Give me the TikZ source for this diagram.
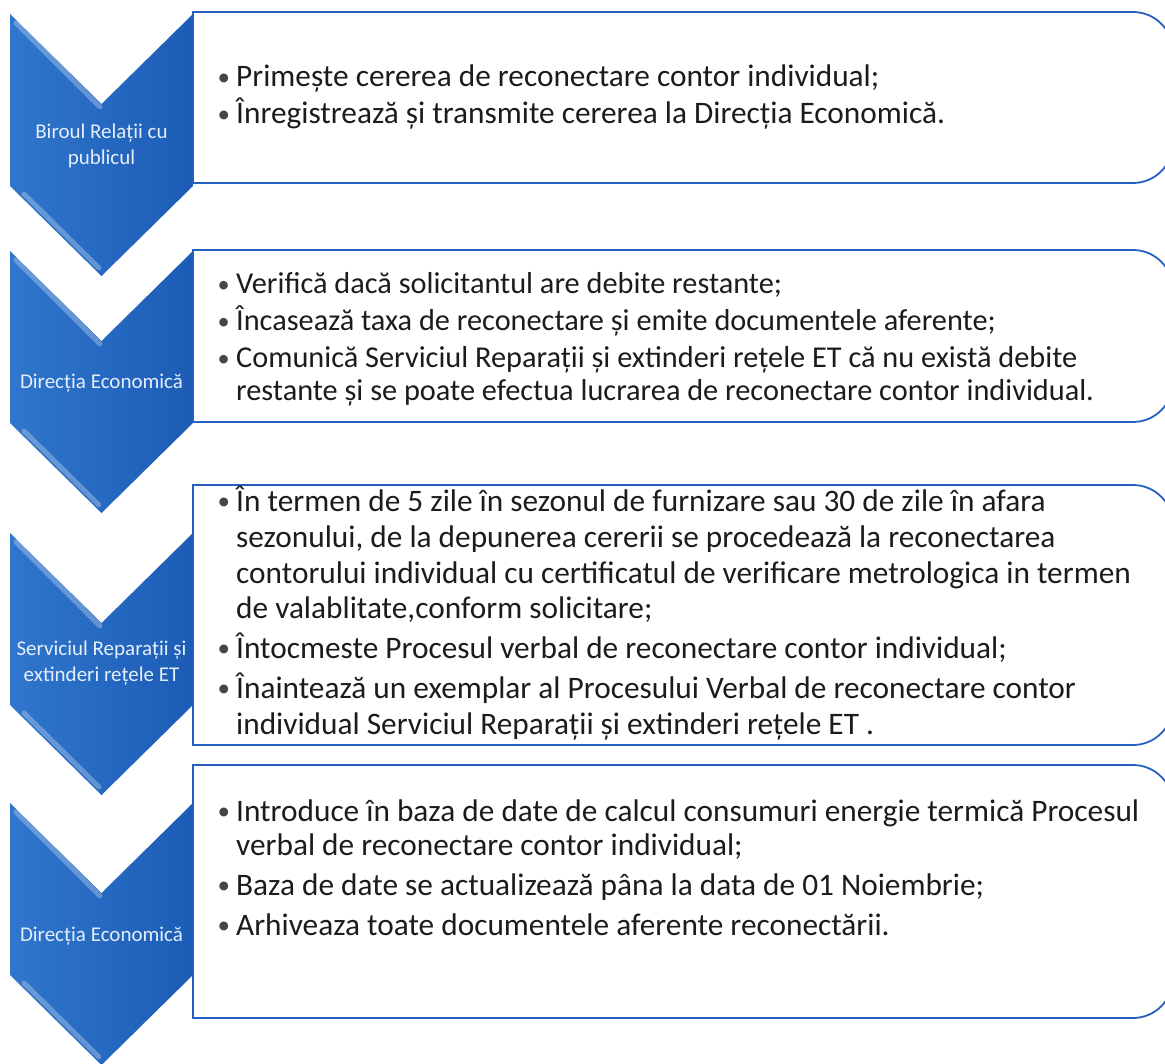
\documentclass[tikz,border=0pt]{standalone}
\usepackage{fontspec}
\setmainfont{Carlito}
\definecolor{chevL}{RGB}{48,118,205}
\definecolor{chevR}{RGB}{28,92,182}
\definecolor{boxline}{RGB}{38,96,190}
\definecolor{txt}{RGB}{28,28,28}
\definecolor{chevtxt}{RGB}{228,238,250}
\definecolor{bulc}{RGB}{70,70,70}
\newcommand\bul{\makebox[20pt][l]{\hspace{1.5pt}\raisebox{1.2pt}{\scalebox{0.8}{\textcolor{bulc}{\textbullet}}}}}
\newcommand\mychev[1]{%
  \shade[left color=chevL, right color=chevR] (10,#1) -- (101.5,{#1+90}) -- (193,#1) -- (193,{#1+172}) -- (101.5,{#1+262}) -- (10,{#1+172}) -- cycle;
  \draw[bevel] (16,{#1+9}) -- (100,{#1+93});
  \draw[bevel] (24,{#1+180}) -- (99,{#1+254});
}
\newcommand\mypanel[2]{%
  \draw[panel] (193,#1) -- (1133,#1) .. controls +(22,0) and +(0,-22) .. (1173,{#1+40}) -- (1173,{#2-40}) .. controls +(0,22) and +(22,0) .. (1133,#2) -- (193,#2) -- cycle;
}
\begin{document}
\begin{tikzpicture}[x=1pt,y=-1pt,
  bevel/.style={draw=white, opacity=0.28, line width=5pt, line cap=round},
  panel/.style={draw=boxline, line width=1.8pt, fill=white},
  lbl/.style={text=chevtxt, font=\fontsize{21}{26}\selectfont, align=center, inner sep=0pt},
  itm/.style={text=txt, font=\fontsize{31.3}{36}\selectfont, anchor=base west, inner sep=0pt},
  itms/.style={text=txt, font=\fontsize{30.3}{36}\selectfont, anchor=base west, inner sep=0pt}]
\useasboundingbox (0,0) rectangle (1165,1064);
\clip (0,0) rectangle (1165,1064);
\fill[white] (0,0) rectangle (1165,1064);

% chevrons
\mychev{14}
\mychev{251}
\mychev{533}
\mychev{803}

% panels
\mypanel{12}{183}
\mypanel{250}{422}
\mypanel{485}{745}
\mypanel{765}{1018}

% chevron labels
\node[lbl] (l1) at (101.5,146) {Biroul Relații cu\\publicul};
\node[lbl] (l2) at (101.5,383) {Direcția Economică};
\node[lbl] (l3) at (101.5,663) {Serviciul Reparații și\\extinderi rețele ET};
\node[lbl] (l4) at (101.5,936) {Direcția Economică};

% box 1
\node[itm] (a1) at (216,87) {\bul Primește cererea de reconectare contor individual;};
\node[itm] (a2) at (216,124) {\bul Înregistrează și transmite cererea la Direcția Economică.};

% box 2
\node[itms] (b1) at (216,294) {\bul Verifică dacă solicitantul are debite restante;};
\node[itms] (b2) at (216,331) {\bul Încasează taxa de reconectare și emite documentele aferente;};
\node[itms] (b3) at (216,368) {\bul Comunică Serviciul Reparații și extinderi rețele ET că nu există debite};
\node[itms] (b4) at (236,401) {restante și se poate efectua lucrarea de reconectare contor individual.};

% box 3
\node[itm] (c1) at (216,511) {\bul În termen de 5 zile în sezonul de furnizare sau 30 de zile în afara};
\node[itm] (c2) at (236,547) {sezonului, de la depunerea cererii se procedează la reconectarea};
\node[itm] (c3) at (236,583) {contorului individual cu certificatul de verificare metrologica in termen};
\node[itm] (c4) at (236,618) {de valablitate,conform solicitare;};
\node[itm] (c5) at (216,658) {\bul Întocmeste Procesul verbal de reconectare contor individual;};
\node[itm] (c6) at (216,698) {\bul Înaintează un exemplar al Procesului Verbal de reconectare contor};
\node[itm] (c7) at (236,734) {individual Serviciul Reparații și extinderi rețele ET .};

% box 4
\node[itm] (d1) at (216,821) {\bul Introduce în baza de date de calcul consumuri energie termică Procesul};
\node[itm] (d2) at (236,855) {verbal de reconectare contor individual;};
\node[itm] (d3) at (216,895) {\bul Baza de date se actualizează pâna la data de 01 Noiembrie;};
\node[itm] (d4) at (216,935) {\bul Arhiveaza toate documentele aferente reconectării.};
\end{tikzpicture}
\end{document}
